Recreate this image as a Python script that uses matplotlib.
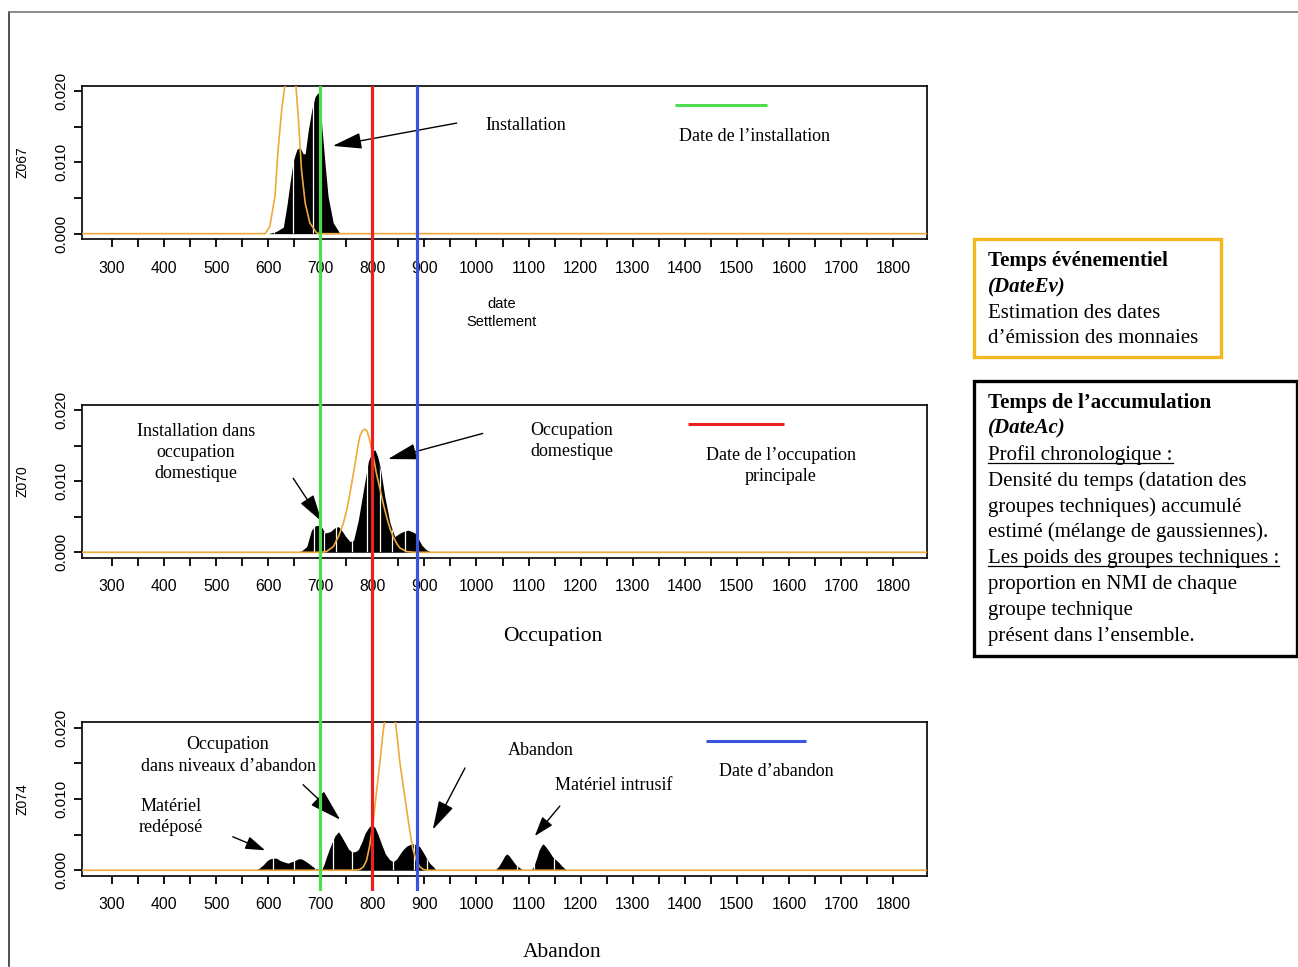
import matplotlib

matplotlib.use("Agg")
import matplotlib.pyplot as plt
from matplotlib.lines import Line2D
from matplotlib.patches import Rectangle

# --- values ---------------------------------------------------------------
# black: accumulated-time density (DateAc); orange: event-time density (DateEv)
z067_dates = [600, 615, 629, 636, 642, 648, 655, 661, 667, 671, 677, 684, 690, 695,
              699, 703, 709, 715, 725, 738]
z067_density = [0, 0.0003, 0.0009, 0.004, 0.0072, 0.0102, 0.0118, 0.0121, 0.0112,
                0.0112, 0.0145, 0.0175, 0.0192, 0.0197, 0.0197, 0.015, 0.0099,
                0.0052, 0.0015, 0]
z067_ev_dates = [200, 594, 603, 613, 619, 626, 632, 637, 642, 648, 653, 658, 664,
                 671, 680, 693, 700, 1900]
z067_ev_density = [0, 0, 0.001, 0.0052, 0.0118, 0.0174, 0.0208, 0.0245, 0.026,
                   0.0245, 0.021, 0.016, 0.0089, 0.0043, 0.0015, 0.0001, 0, 0]
z067_seams = [611, 648, 686]

z070_dates = [655, 664, 674, 683, 690, 697, 703, 709, 719, 729, 735, 741, 748, 757,
              764, 773, 783, 792, 800, 805, 810, 815, 824, 834, 843, 853, 862, 869,
              876, 882, 889, 895, 903, 911, 915]
z070_density = [0, 0.0002, 0.0008, 0.0031, 0.0037, 0.0038, 0.0035, 0.0027, 0.0029,
                0.0035, 0.0036, 0.0031, 0.0023, 0.0015, 0.0017, 0.0045, 0.0088,
                0.0127, 0.0142, 0.0144, 0.0135, 0.012, 0.0078, 0.0041, 0.0022,
                0.0027, 0.003, 0.0031, 0.0029, 0.0027, 0.0018, 0.001, 0.0004,
                0.0001, 0]
z070_ev_dates = [200, 700, 712, 725, 735, 744, 751, 757, 762, 767, 772, 776, 781, 786,
                 790, 794, 798, 802, 808, 815, 821, 828, 834, 840, 847, 853, 866,
                 880, 1900]
z070_ev_density = [0, 0, 0.0001, 0.0008, 0.0022, 0.004, 0.006, 0.0083, 0.0104,
                   0.0125, 0.0148, 0.0163, 0.0171, 0.0173, 0.017, 0.016, 0.0147,
                   0.0134, 0.011, 0.0088, 0.0068, 0.0048, 0.0033, 0.0022, 0.0012,
                   0.0006, 0.0001, 0, 0]
z070_seams = [687, 707, 731, 760, 789, 815, 837, 863, 885]

z074_dates = [575, 583, 591, 597, 603, 610, 616, 622, 629, 638, 645, 652, 658, 664,
              671, 677, 684, 690, 697, 703, 708, 712, 717, 722, 728, 735, 741, 748,
              754, 760, 767, 773, 780, 786, 793, 799, 805, 811, 818, 825, 833, 840,
              847, 853, 859, 866, 872, 878, 885, 891, 897, 904, 910, 917, 923,
              1035, 1042, 1048, 1054, 1058, 1062, 1068, 1075, 1082, 1090,
              1105, 1110, 1115, 1120, 1125, 1128, 1133, 1140, 1146, 1152, 1158,
              1164, 1170, 1174]
z074_density = [0, 0.0003, 0.0008, 0.0013, 0.0016, 0.0017, 0.0017, 0.0014, 0.0012,
                0.001, 0.0012, 0.0014, 0.0016, 0.0016, 0.0013, 0.001, 0.0006,
                0.0003, 0.0001, 0.0001, 0.001, 0.0019, 0.0029, 0.0038, 0.0048,
                0.0054, 0.0047, 0.0038, 0.003, 0.0026, 0.0026, 0.0029, 0.004,
                0.0052, 0.006, 0.0064, 0.006, 0.005, 0.0036, 0.0023, 0.0015,
                0.0012, 0.0016, 0.0023, 0.0029, 0.0034, 0.0036, 0.0037, 0.0036,
                0.0033, 0.0026, 0.0017, 0.001, 0.0005, 0,
                0, 0.0005, 0.0012, 0.002, 0.0023, 0.0021, 0.0015, 0.0008, 0.0004, 0,
                0, 0.0006, 0.0016, 0.0028, 0.0035, 0.0037, 0.0033, 0.0026, 0.0019,
                0.0015, 0.0011, 0.0006, 0.0002, 0]
z074_ev_dates = [200, 760, 776, 783, 789, 795, 802, 808, 815, 820, 824, 828, 833,
                 838, 843, 848, 853, 860, 866, 872, 878, 885, 891, 898, 905, 1900]
z074_ev_density = [0, 0, 0.0001, 0.0005, 0.0014, 0.0035, 0.007, 0.011, 0.0155,
                   0.019, 0.0212, 0.0235, 0.0245, 0.0238, 0.0215, 0.0185, 0.015,
                   0.0115, 0.0085, 0.0055, 0.0029, 0.0013, 0.0005, 0.0001, 0, 0]
z074_seams = [610, 650, 690, 725, 760, 800, 840, 880, 905, 1077, 1110, 1149]

# installation, main occupation, abandonment
event_dates = [700, 800, 885]

x_ticks = list(range(300, 1801, 50))
x_tick_labels = [str(v) if v % 100 == 0 else "" for v in x_ticks]
y_ticks = [0, 0.005, 0.010, 0.015, 0.020]
y_tick_labels = ["0.000", "", "0.010", "", "0.020"]

# --- layout / style ---------------------------------------------------------
FIG_W, FIG_H = 1298, 967
SERIF = ["Liberation Serif", "DejaVu Serif"]
SANS = ["Liberation Sans", "DejaVu Sans"]
ORANGE = "#eeaa3a"
GREEN = "#4cdc4c"
RED = "#e8231d"
BLUE = "#3b54e0"
GOLD = "#f2b81e"

XLIM = (242.4, 1865.2)
YLIM = (-0.00079, 0.02074)
PANEL_LEFT, PANEL_RIGHT = 82, 927
PANEL_ROWS = [(85.7, 239.3), (404.7, 557.9), (722.4, 875.9)]


def fig_rect(left, top, right, bottom):
    return [left / FIG_W, 1 - bottom / FIG_H, (right - left) / FIG_W, (bottom - top) / FIG_H]


def draw_panel(ax, name, dates, dens, ev_dates, ev_dens, seams):
    fill = ax.fill_between(dates, 0, dens, color="black", lw=0, zorder=2)
    seam_lines = ax.vlines(seams, 0, 0.03, color="white", lw=0.9, zorder=3)
    seam_lines.set_clip_path(fill.get_paths()[0], fill.get_transform())
    ax.plot(ev_dates, ev_dens, color=ORANGE, lw=1.2, zorder=4)

    ax.set_xlim(*XLIM)
    ax.set_ylim(*YLIM)
    ax.set_xticks(x_ticks, x_tick_labels)
    ax.set_yticks(y_ticks, y_tick_labels)
    ax.tick_params(axis="x", length=6, width=1.3, pad=9.5, labelsize=11.3)
    ax.tick_params(axis="y", length=6, width=1.3, pad=4, labelsize=11)
    for lab in ax.get_yticklabels():
        lab.set_rotation(90)
        lab.set_va("center")
    for lab in ax.get_xticklabels() + ax.get_yticklabels():
        lab.set_family(SANS)
    for sp in ax.spines.values():
        sp.set_linewidth(1.2)
    ax.text(-0.071, 0.5, name, rotation=90, transform=ax.transAxes, ha="center",
            va="center", fontsize=10, family=SANS)


def note(ax, x, y, s, size=13):
    ax.text(x, y, s, transform=ax.transAxes, ha="center", va="center",
            fontsize=size, family=SERIF, linespacing=1.32)


def arrow(ax, tail, tip, head_len=0.9, head_w=0.25, lw=1.0):
    ax.annotate("", xy=tip, xytext=tail, annotation_clip=False,
                arrowprops=dict(arrowstyle=f"-|>,head_length={head_len},head_width={head_w}",
                                mutation_scale=20, color="black", lw=lw,
                                shrinkA=0, shrinkB=0))


def legend_bar(ax, x0, x1, y, color):
    ax.plot([x0, x1], [y, y], color=color, lw=2.2, transform=ax.transAxes,
            solid_capstyle="butt")


def make_chart(output="out.png"):
    fig = plt.figure(figsize=(FIG_W / 100, FIG_H / 100), dpi=100)
    fig.patch.set_facecolor("white")

    # outer frame of the original slide
    fig.add_artist(Line2D([9 / FIG_W, 9 / FIG_W], [1 / FIG_H, 1 - 12 / FIG_H],
                          color="#333333", lw=1.2))
    fig.add_artist(Line2D([9 / FIG_W, 1], [1 - 12 / FIG_H, 1 - 12 / FIG_H],
                          color="#777777", lw=1.2))

    axes = [fig.add_axes(fig_rect(PANEL_LEFT, top, PANEL_RIGHT, bottom))
            for top, bottom in PANEL_ROWS]
    ax1, ax2, ax3 = axes

    draw_panel(ax1, "Z067", z067_dates, z067_density, z067_ev_dates, z067_ev_density,
               z067_seams)
    draw_panel(ax2, "Z070", z070_dates, z070_density, z070_ev_dates, z070_ev_density,
               z070_seams)
    draw_panel(ax3, "Z074", z074_dates, z074_density, z074_ev_dates, z074_ev_density,
               z074_seams)

    # panel 1
    note(ax1, 0.5254, 0.744, "Installation")
    arrow(ax1, (962, 0.0155), (724, 0.0123))
    legend_bar(ax1, 0.7018, 0.8107, 0.874, GREEN)
    note(ax1, 0.7964, 0.6725, "Date de l\u2019installation")
    ax1.text(0.497, -0.421, "date", transform=ax1.transAxes, ha="center", va="center",
             fontsize=10.5, family=SANS)
    ax1.text(0.497, -0.538, "Settlement", transform=ax1.transAxes, ha="center",
             va="center", fontsize=10.5, family=SANS)

    # panel 2
    note(ax2, 0.1349, 0.690, "Installation dans\noccupation\ndomestique")
    arrow(ax2, (648, 0.0104), (703, 0.0043), head_len=0.85, head_w=0.24)
    note(ax2, 0.5799, 0.763, "Occupation\ndomestique")
    arrow(ax2, (1012, 0.0167), (830, 0.0131))
    legend_bar(ax2, 0.7172, 0.8308, 0.874, RED)
    note(ax2, 0.8272, 0.600, "Date de l\u2019occupation\nprincipale")
    note(ax2, 0.5574, -0.510, "Occupation", size=15.5)

    # panel 3
    note(ax3, 0.1728, 0.784, "Occupation\ndans niveaux d\u2019abandon")
    note(ax3, 0.1053, 0.384, "Mat\u00e9riel\nred\u00e9pos\u00e9")
    arrow(ax3, (532, 0.0047), (594, 0.0028), head_len=0.6, head_w=0.2)
    arrow(ax3, (667, 0.0120), (738, 0.0071), head_len=1.0, head_w=0.3)
    note(ax3, 0.5432, 0.814, "Abandon")
    arrow(ax3, (978, 0.01435), (916, 0.0057))
    note(ax3, 0.6296, 0.586, "Mat\u00e9riel intrusif")
    arrow(ax3, (1160, 0.0090), (1112, 0.0048), head_len=0.6, head_w=0.2)
    legend_bar(ax3, 0.7385, 0.8568, 0.879, BLUE)
    note(ax3, 0.8213, 0.683, "Date d\u2019abandon")
    note(ax3, 0.568, -0.496, "Abandon", size=15.5)

    # event dates cross all three panels
    ax_ev = fig.add_axes(fig_rect(PANEL_LEFT, 86, PANEL_RIGHT, 891))
    ax_ev.set_xlim(*XLIM)
    ax_ev.axis("off")
    for date, color in zip(event_dates, [GREEN, RED, BLUE]):
        ax_ev.axvline(date, color=color, lw=2.3)

    # right-hand explanation boxes
    fig.add_artist(Rectangle((974 / FIG_W, 1 - 357 / FIG_H), 247 / FIG_W, 118 / FIG_H,
                             transform=fig.transFigure, fill=False, ec=GOLD, lw=2.4))
    fig.add_artist(Rectangle((974 / FIG_W, 1 - 656 / FIG_H), 323 / FIG_W, 275 / FIG_H,
                             transform=fig.transFigure, fill=False, ec="black", lw=2.4))

    box_lines = [
        ("Temps \u00e9v\u00e9nementiel", 260, "bold", "normal", False),
        ("(DateEv)", 286, "bold", "italic", False),
        ("Estimation des dates", 312, "normal", "normal", False),
        ("d\u2019\u00e9mission des monnaies", 337, "normal", "normal", False),
        ("Temps de l\u2019accumulation", 402, "bold", "normal", False),
        ("(DateAc)", 427, "bold", "italic", False),
        ("Profil chronologique :", 454, "normal", "normal", True),
        ("Densit\u00e9 du temps (datation des", 480, "normal", "normal", False),
        ("groupes techniques) accumul\u00e9", 506, "normal", "normal", False),
        ("estim\u00e9 (m\u00e9lange de gaussiennes).", 531, "normal", "normal", False),
        ("Les poids des groupes techniques :", 557, "normal", "normal", True),
        ("proportion en NMI de chaque", 583, "normal", "normal", False),
        ("groupe technique", 609, "normal", "normal", False),
        ("pr\u00e9sent dans l\u2019ensemble.", 635, "normal", "normal", False),
    ]
    underlined = []
    for s, yc, weight, style, uline in box_lines:
        t = fig.text(988 / FIG_W, 1 - (yc + 6) / FIG_H, s, ha="left", va="baseline",
                     fontsize=15, family=SERIF, weight=weight, style=style)
        if uline:
            underlined.append((t, yc))

    fig.canvas.draw()
    renderer = fig.canvas.get_renderer()
    for t, yc in underlined:
        bb = t.get_window_extent(renderer)
        y = 1 - (yc + 9) / FIG_H
        fig.add_artist(Line2D([bb.x0 / FIG_W, bb.x1 / FIG_W], [y, y], color="black",
                              lw=0.9))

    fig.savefig(output, dpi=100)
    print(f"saved {output}")


if __name__ == "__main__":
    make_chart()
